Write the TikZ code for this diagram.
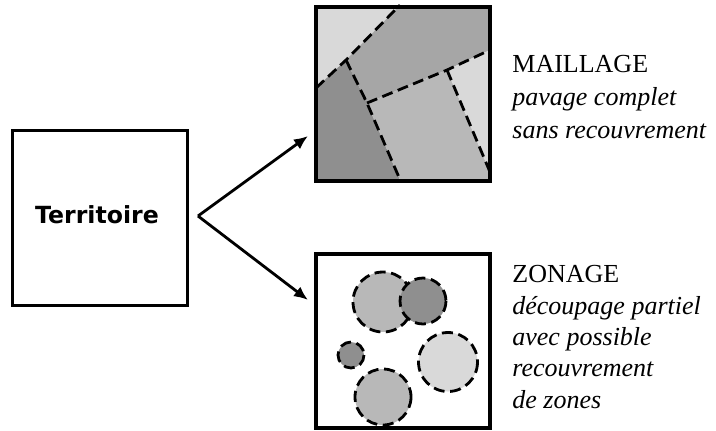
\documentclass[tikz,border=0pt]{standalone}
\usepackage{fontspec}
\setmainfont{Liberation Serif}
\newfontfamily\terrfont{DejaVu Sans}
\usepackage{tikz}
\usetikzlibrary{positioning,arrows.meta}

\definecolor{grisclair}{HTML}{D9D9D9}
\definecolor{grismoyen}{HTML}{B8B8B8}
\definecolor{grisfonce}{HTML}{A6A6A6}
\definecolor{grissombre}{HTML}{8F8F8F}

\tikzset{
  limite/.style={line width=1.4pt, dash pattern=on 5.5pt off 2.8pt},
  cadre/.style={draw, line width=2pt, minimum size=87pt, inner sep=0pt},
  legende/.style={anchor=north west, align=left, inner sep=0pt},
  fleche/.style={-{Latex[length=7pt,width=6pt]}, line width=1.4pt},
}

\begin{document}
\begin{tikzpicture}[x=0.5pt,y=-0.5pt]
\useasboundingbox (0,0) rectangle (716,430);
% territoire
\node[draw, line width=1.5pt, minimum size=87.5pt, inner sep=0pt] (terr) at (99.5,217.5) {};
\node[font=\terrfont\bfseries\fontsize{11.8}{14}\selectfont] (terrtxt) at (97,215) {Territoire};
% maillage
\coordinate (p1) at (316,88);
\coordinate (p2) at (346,60);
\coordinate (p3) at (400,5);
\coordinate (q) at (367,103);
\coordinate (p4) at (401,182);
\coordinate (r) at (447,70);
\coordinate (s) at (490,50);
\coordinate (t) at (490,172);
\fill[grisclair] (316,5) -- (p3) -- (p2) -- (p1) -- cycle;
\fill[grisfonce] (p3) -- (490,5) -- (s) -- (r) -- (q) -- (p2) -- cycle;
\fill[grissombre] (p1) -- (p2) -- (q) -- (p4) -- (316,182) -- cycle;
\fill[grismoyen] (q) -- (r) -- (t) -- (490,182) -- (p4) -- cycle;
\fill[grisclair] (r) -- (s) -- (t) -- cycle;
\draw[limite] (p1) -- (p2) -- (p3);
\draw[limite] (p2) -- (q) -- (p4);
\draw[limite] (q) -- (r) -- (s);
\draw[limite] (r) -- (t);
\node[cadre] (maill) at (403,93.5) {};
% zonage
\fill[grismoyen] (383,302) circle[radius=30];
\draw[limite] (383,302) circle[radius=30];
\fill[grissombre] (423,301) circle[radius=23];
\draw[limite] (423,301) circle[radius=23];
\fill[grissombre] (351,355) circle[radius=13];
\draw[limite] (351,355) circle[radius=13];
\fill[grisclair] (448,362) circle[radius=29.5];
\draw[limite] (448,362) circle[radius=29.5];
\fill[grismoyen] (383,397) circle[radius=28];
\draw[limite] (383,397) circle[radius=28];
\node[cadre] (zon) at (403,341) {};
% fleches
\coordinate (fourche) at (198,216);
\coordinate (versmaill) at (308,136);
\coordinate (verszon) at (308,300);
\draw[fleche] (fourche) -- (versmaill);
\draw[fleche] (fourche) -- (verszon);
% legendes
\node[legende, font=\fontsize{13}{16.5}\selectfont] (mailtxt) at (512,55)
  {MAILLAGE\\\textit{pavage complet}\\\textit{sans recouvrement}};
\node[legende, font=\fontsize{13}{15.7}\selectfont] (zontxt) at (512,265)
  {ZONAGE\\\textit{découpage partiel}\\\textit{avec possible}\\\textit{recouvrement}\\\textit{de zones}};
\end{tikzpicture}
\end{document}
